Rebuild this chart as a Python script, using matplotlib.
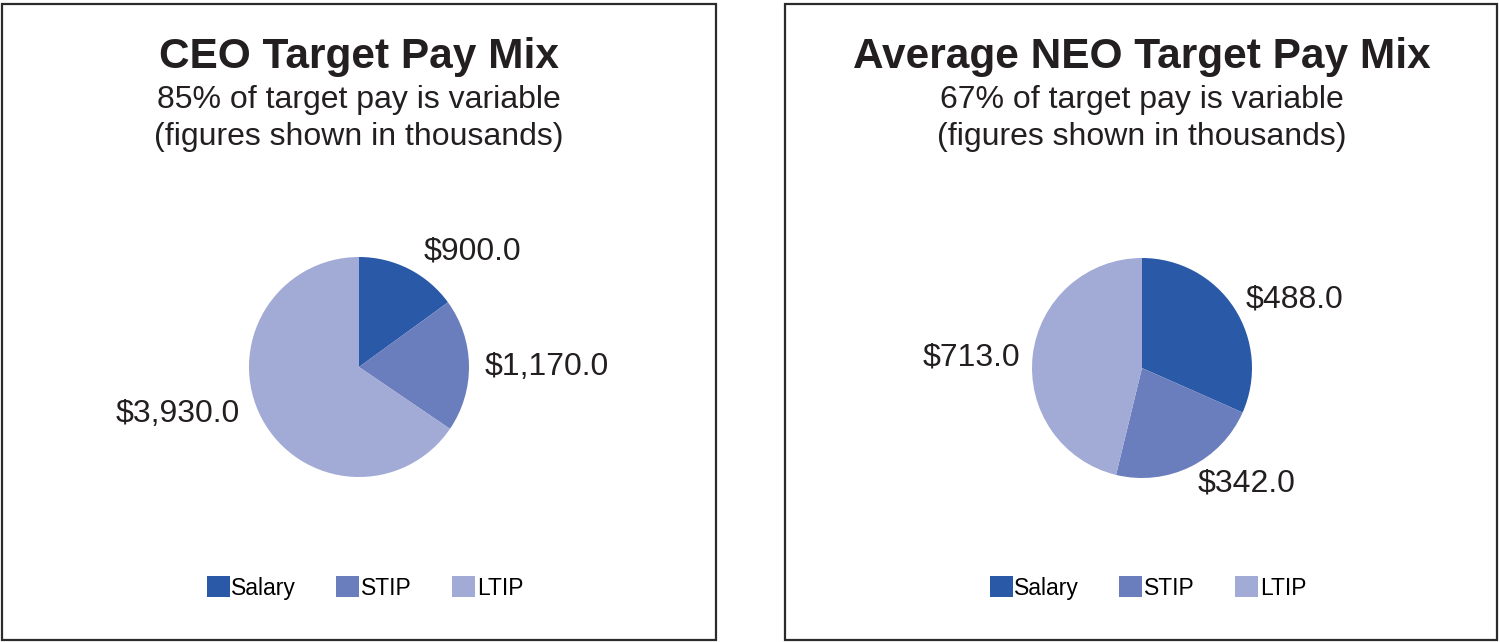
import matplotlib
matplotlib.use("Agg")
import matplotlib.pyplot as plt
from matplotlib.patches import Rectangle, Patch

plt.rcParams['font.family'] = ['Liberation Sans', 'DejaVu Sans']

categories = ["Salary", "STIP", "LTIP"]
ceo_values = [900.0, 1170.0, 3930.0]
neo_values = [488.0, 342.0, 713.0]
titles = ["CEO Target Pay Mix", "Average NEO Target Pay Mix"]
subtitles = [["85% of target pay is variable", "(figures shown in thousands)"],
             ["67% of target pay is variable", "(figures shown in thousands)"]]
colors = ["#2A5AA7", "#6A7DBC", "#A2AAD6"]

W, H = 1500, 642
fig = plt.figure(figsize=(W / 100, H / 100), dpi=100)

# layout (pixels)
panels = [(2, 716), (785, 1497)]
centers = [(359, 367), (1142, 368)]
R = 110
label_pos = [
    [(1.03, 1.05), (1.71, 0.0), (-1.65, -0.43)],
    [(1.39, 0.62), (0.95, -1.05), (-1.55, 0.10)],
]

for i, vals in enumerate([ceo_values, neo_values]):
    x0, x1 = panels[i]
    fig.patches.append(Rectangle((x0 / W, 2 / H), (x1 - x0) / W, 636 / H,
                                 transform=fig.transFigure, fill=False,
                                 edgecolor="#2b2b2b", linewidth=1.6))
    cx, cy = centers[i]
    fig.text(cx / W, 1 - 57 / H, titles[i], ha="center", va="center",
             fontsize=30.5, fontweight="bold", color="#231f20")
    for j, line in enumerate(subtitles[i]):
        fig.text(cx / W, 1 - (100 + 37 * j) / H, line, ha="center", va="center",
                 fontsize=23, color="#231f20")
    ax = fig.add_axes([(cx - 2 * R) / W, 1 - (cy + 2 * R) / H, 4 * R / W, 4 * R / H])
    wedges, _ = ax.pie(vals, colors=colors, startangle=90, counterclock=False,
                       radius=1, wedgeprops=dict(linewidth=0))
    ax.set_xlim(-2, 2)
    ax.set_ylim(-2, 2)
    ax.set_aspect("equal")
    ax.axis("off")
    for v, (lx, ly) in zip(vals, label_pos[i]):
        ax.text(lx, ly, f"${v:,.1f}", ha="center", va="center", fontsize=23,
                color="#231f20")
    handles = [Patch(facecolor=c, edgecolor="none") for c in colors]
    fig.legend(handles, categories, loc="center", ncol=3,
               bbox_to_anchor=((cx + 6) / W, 1 - 588 / H), frameon=False,
               fontsize=16.5, handlelength=1.0, handleheight=1.0,
               handletextpad=0.08, columnspacing=1.75)

fig.savefig("out.png", dpi=100, facecolor="white")
